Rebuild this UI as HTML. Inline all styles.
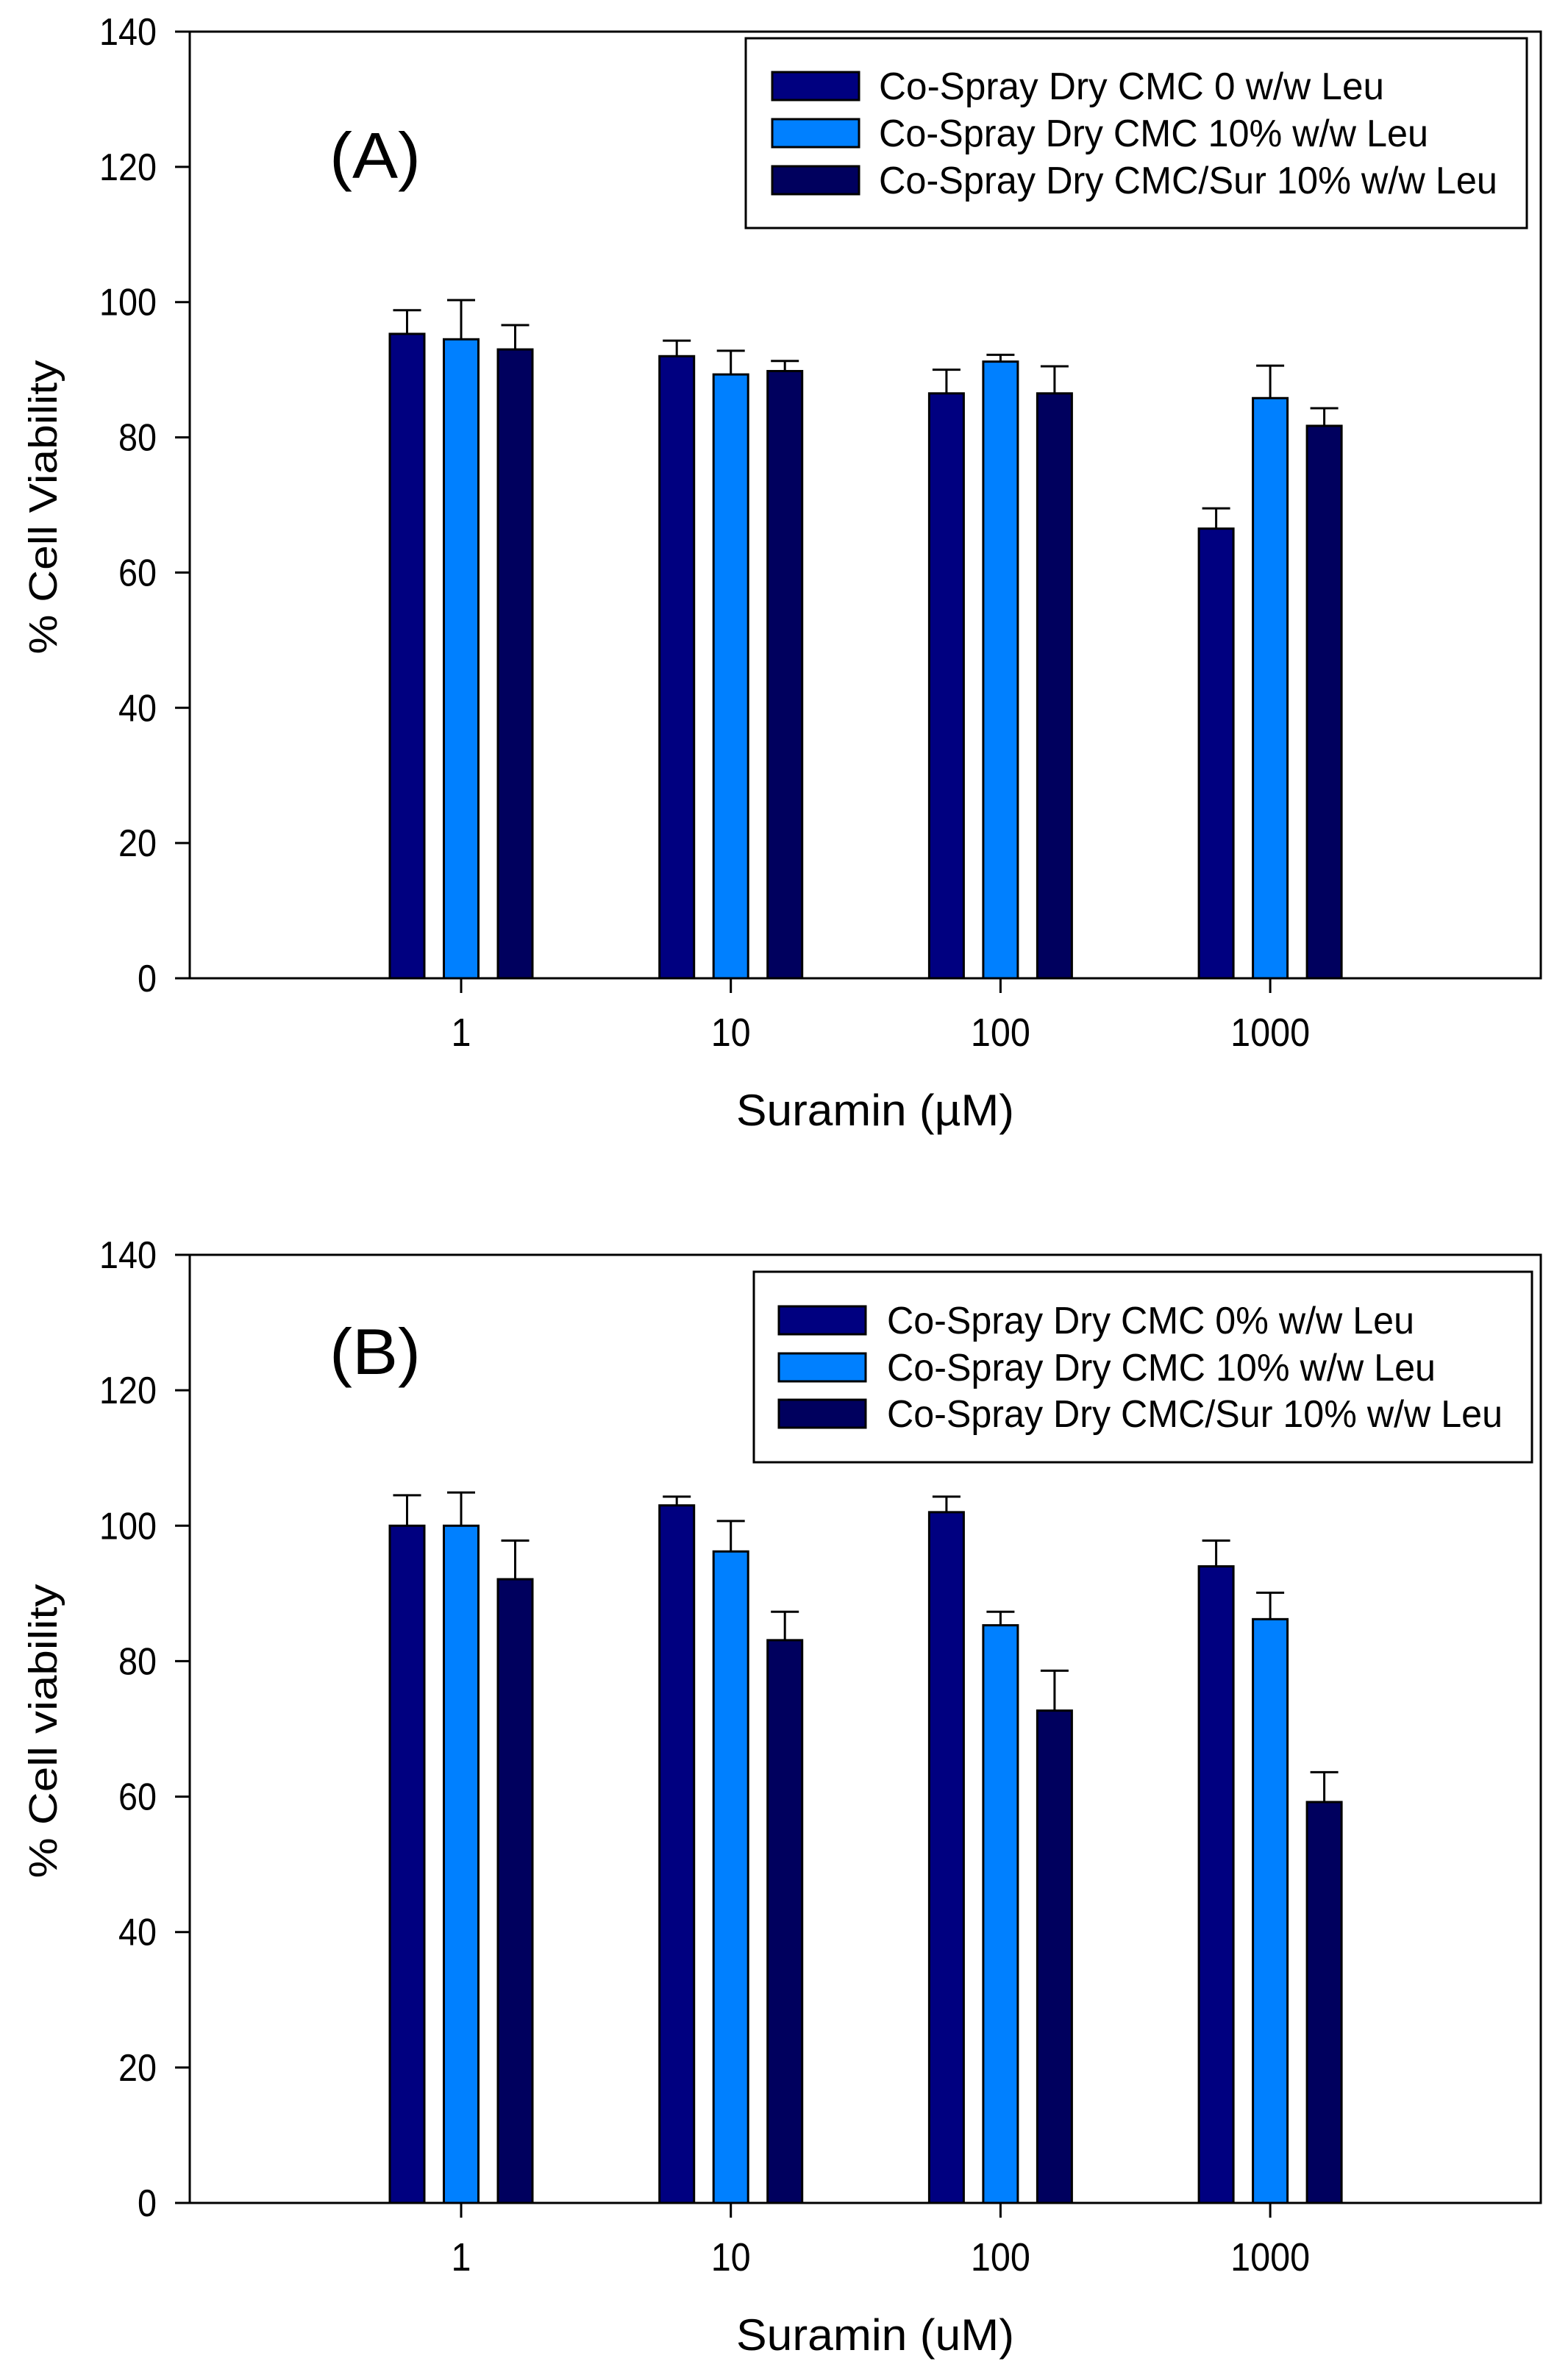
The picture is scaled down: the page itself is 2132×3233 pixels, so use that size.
<!DOCTYPE html>
<html><head><meta charset="utf-8"><style>
html,body{margin:0;padding:0;background:#fff;}
svg{display:block;font-family:"Liberation Sans",sans-serif;}
</style></head><body>
<svg id="chart" width="2132" height="3233" viewBox="0 0 2132 3233" xmlns="http://www.w3.org/2000/svg"></svg>
<script>
const categories = ["1", "10", "100", "1000"];
const yTicks = [0, 20, 40, 60, 80, 100, 120, 140];
const seriesNamesA = ["Co-Spray Dry CMC 0  w/w Leu", "Co-Spray Dry CMC 10% w/w Leu", "Co-Spray Dry CMC/Sur 10% w/w Leu"];
const seriesNamesB = ["Co-Spray Dry CMC 0% w/w Leu", "Co-Spray Dry CMC 10% w/w Leu", "Co-Spray Dry CMC/Sur 10% w/w Leu"];
const a1 = [95.3, 92.0, 86.5, 66.5];
const a1err = [3.5, 2.3, 3.5, 3.0];
const a2 = [94.5, 89.3, 91.2, 85.8];
const a2err = [5.8, 3.5, 1.0, 4.8];
const a3 = [93.0, 89.8, 86.5, 81.7];
const a3err = [3.6, 1.5, 4.0, 2.6];
const b1 = [100.0, 103.0, 102.0, 94.0];
const b1err = [4.5, 1.3, 2.3, 3.8];
const b2 = [100.0, 96.2, 85.3, 86.2];
const b2err = [4.9, 4.5, 2.0, 3.9];
const b3 = [92.1, 83.1, 72.7, 59.2];
const b3err = [5.7, 4.2, 5.9, 4.4];

const NS = "http://www.w3.org/2000/svg";
const svg = document.getElementById("chart");
const colors = ["#000080", "#0080FF", "#00005E"];
function mk(tag, attrs, parent) {
  const e = document.createElementNS(NS, tag);
  for (const k in attrs) e.setAttribute(k, attrs[k]);
  (parent || svg).appendChild(e);
  return e;
}
function panel(cfg) {
  const g = mk("g", {});
  
  
  const left = 258, right = 2095, top = cfg.top, bottom = cfg.bottom;
  const yScale = v => bottom - (v / 140) * (bottom - top);
  const xScale = i => 627 + i * 366.7;
  const frame = mk("rect", {x: left, y: top, width: right - left, height: bottom - top, fill: "none", stroke: "#000", "stroke-width": 3}, g);
  
  
  yTicks.forEach(t => {
    const y = yScale(t);
    const tl = mk("line", {x1: left - 20, x2: left, y1: y, y2: y, stroke: "#000", "stroke-width": 3}, g);
    
    
    const s = String(t);
    const tx = mk("text", {x: 213, y: y + 18, "font-size": 52, "text-anchor": "end", textLength: s.length * 26, lengthAdjust: "spacingAndGlyphs"}, g);
    tx.textContent = s;
    
    
  });
  categories.forEach((c, i) => {
    const x = xScale(i);
    const tl = mk("line", {x1: x, x2: x, y1: bottom, y2: bottom + 20, stroke: "#000", "stroke-width": 3}, g);
    
    
    const tx = mk("text", {x: x, y: bottom + 92, "font-size": 54, "text-anchor": "middle", textLength: c.length * 27, lengthAdjust: "spacingAndGlyphs"}, g);
    tx.textContent = c;
    
    
  });
  const offsets = [-73.5, 0, 73.5];
  cfg.series.forEach((s, si) => {
    s.vals.forEach((v, i) => {
      const cx = xScale(i) + offsets[si];
      const yt = yScale(v), ye = yScale(v + s.err[i]);
      const eb = mk("line", {x1: cx, x2: cx, y1: yt, y2: ye, stroke: "#000", "stroke-width": 3}, g);
      
      
      const cap = mk("line", {x1: cx - 19, x2: cx + 19, y1: ye, y2: ye, stroke: "#000", "stroke-width": 3}, g);
      
      
      const r = mk("rect", {x: cx - 23.5, y: yt, width: 47, height: bottom - yt, fill: colors[si], stroke: "#000", "stroke-width": 3}, g);
      
      
    });
  });
  const L = cfg.legend;
  const lg = mk("g", {}, g);
  
  
  mk("rect", {x: L.x, y: L.y, width: L.w, height: L.h, fill: "#fff", stroke: "#000", "stroke-width": 3}, lg);
  cfg.names.forEach((n, i) => {
    const ry = L.rowY[i];
    const sw = mk("rect", {x: L.sx, y: ry - 19, width: 118, height: 38, fill: colors[i], stroke: "#000", "stroke-width": 3}, lg);
    
    
    const t = mk("text", {x: L.tx, y: ry + 18, "font-size": 52, textLength: L.tl[i], lengthAdjust: "spacingAndGlyphs"}, lg);
    t.textContent = n;
    
    
  });
  const pl = mk("text", {x: 448, y: cfg.labelY, "font-size": 88, textLength: 124, lengthAdjust: "spacingAndGlyphs"}, g);
  pl.textContent = cfg.label;
  
  
  const xt = mk("text", {x: 1190, y: bottom + 200, "font-size": 60, "text-anchor": "middle", textLength: 378, lengthAdjust: "spacingAndGlyphs"}, g);
  xt.textContent = cfg.xTitle;
  
  
  const cy = (top + bottom) / 2 + 3;
  const yt = mk("text", {x: 0, y: 0, "font-size": 54, "text-anchor": "middle", textLength: 400, lengthAdjust: "spacingAndGlyphs", transform: "translate(77," + cy + ") rotate(-90)"}, g);
  yt.textContent = cfg.yTitle;
  
  
}
panel({
  name: "panel-a", key: "a", top: 43, bottom: 1330, label: "(A)", labelY: 242,
  xTitle: "Suramin (\u00B5M)", yTitle: "% Cell Viability", names: seriesNamesA,
  series: [{vals: a1, err: a1err}, {vals: a2, err: a2err}, {vals: a3, err: a3err}],
  legend: {x: 1014, y: 52, w: 1062, h: 258, sx: 1050, tx: 1195, rowY: [117, 181, 245], tl: [687, 747, 841]}
});
panel({
  name: "panel-b", key: "b", top: 1706, bottom: 2995, label: "(B)", labelY: 1868,
  xTitle: "Suramin (uM)", yTitle: "% Cell viability", names: seriesNamesB,
  series: [{vals: b1, err: b1err}, {vals: b2, err: b2err}, {vals: b3, err: b3err}],
  legend: {x: 1025, y: 1729, w: 1058, h: 259, sx: 1059, tx: 1206, rowY: [1795, 1859, 1922], tl: [717, 746, 837]}
});
</script>
</body></html>
